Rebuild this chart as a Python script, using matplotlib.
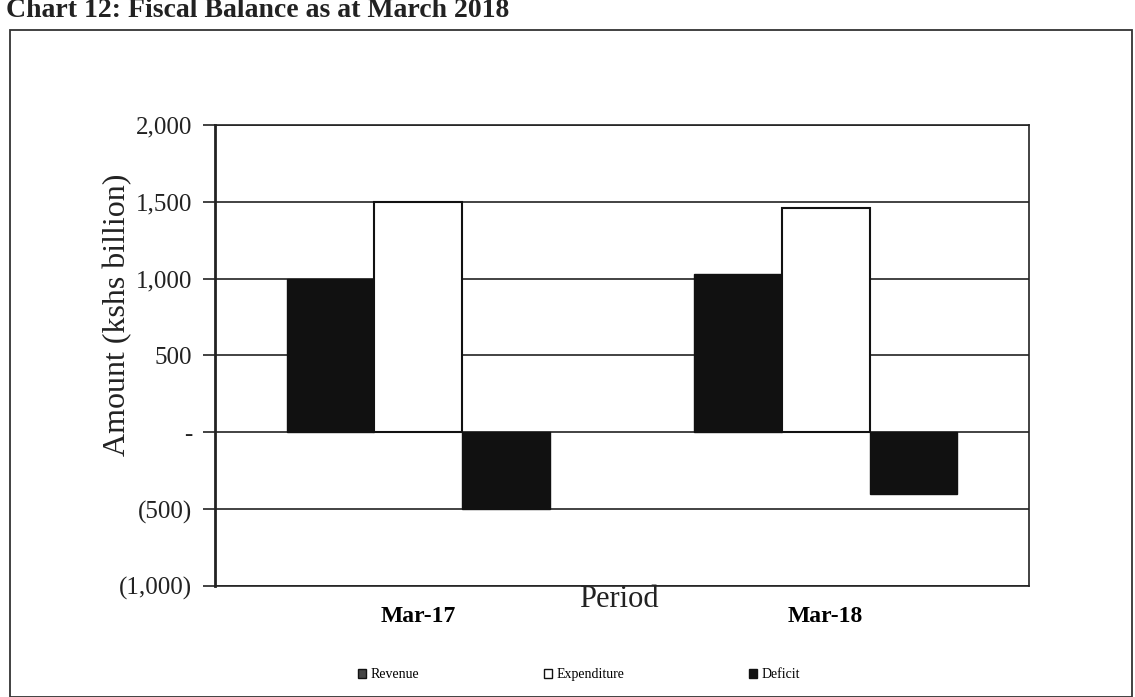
import matplotlib
matplotlib.use("Agg")
import matplotlib.pyplot as plt
import numpy as np
from matplotlib.patches import Patch, Rectangle
from matplotlib.ticker import FuncFormatter

periods = ["Mar-17", "Mar-18"]
revenue = [1000, 1030]
expenditure = [1500, 1460]
deficit = [-500, -400]
yticks = [-1000, -500, 0, 500, 1000, 1500, 2000]

plt.rcParams['font.family'] = ['Liberation Serif', 'DejaVu Serif']

fig = plt.figure(figsize=(11.35, 6.97), dpi=100)
ax = fig.add_axes([0.189, 0.159, 0.718, 0.662])

x = np.arange(len(periods))
w = 0.215
ax.bar(x - w, revenue, w, color='#111111', edgecolor='#111111', linewidth=1, zorder=3, label='Revenue')
ax.bar(x, expenditure, w, color='white', edgecolor='#111111', linewidth=1.5, zorder=3, label='Expenditure')
ax.bar(x + w, deficit, w, color='#111111', edgecolor='#111111', linewidth=1, zorder=3, label='Deficit')

ax.set_ylim(-1000, 2000)
ax.set_xlim(-0.5, 1.5)
ax.set_yticks(yticks)

def fmt(v, pos):
    if v == 0:
        return '-'
    if v < 0:
        return '({:,.0f})'.format(-v)
    return '{:,.0f}'.format(v)

ax.yaxis.set_major_formatter(FuncFormatter(fmt))
ax.tick_params(axis='y', labelsize=18, length=9, width=1.2, pad=7, colors='#222222')
ax.set_xticks(x)
ax.set_xticklabels(periods, fontsize=17, fontweight='bold')
ax.tick_params(axis='x', length=0, pad=14)
ax.grid(axis='y', color='#222222', linewidth=1.2, zorder=1)
for s in ax.spines.values():
    s.set_color('#222222')
    s.set_linewidth(1.2)
ax.spines['left'].set_linewidth(2)

fig.text(0.104, 0.548, 'Amount (kshs billion)', fontsize=23, rotation=90,
         ha='center', va='center', color='#222222')
fig.text(0.545, 0.14, 'Period', fontsize=22, ha='center', va='center', color='#222222')

fig.text(0.005, 0.985, 'Chart 12: Fiscal Balance as at March 2018', fontsize=20,
         fontweight='bold', ha='left', va='center', color='#222222')

fig.add_artist(Rectangle((0.009, 0.0), 0.988, 0.957, transform=fig.transFigure,
                         fill=False, edgecolor='#333333', linewidth=1.3))

handles = [Patch(facecolor='#444444', edgecolor='#111111', label='Revenue'),
           Patch(facecolor='white', edgecolor='#111111', label='Expenditure'),
           Patch(facecolor='#111111', edgecolor='#111111', label='Deficit')]
fig.legend(handles=handles, loc='center', bbox_to_anchor=(0.51, 0.032), ncol=3,
           frameon=False, fontsize=10, handlelength=0.6, handleheight=0.6,
           handletextpad=0.3, columnspacing=9)

fig.savefig('out.png', dpi=100)
